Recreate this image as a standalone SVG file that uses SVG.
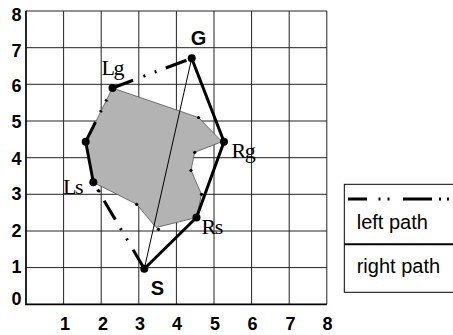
<svg xmlns="http://www.w3.org/2000/svg" width="453" height="335" viewBox="0 0 453 335">
<style>
.grid{stroke:#222;stroke-width:1;fill:none}
.axis{stroke:#000;stroke-width:1.7;fill:none}
.ax{font-family:"Liberation Sans",Arial,sans-serif;font-weight:bold;font-size:18px;fill:#000}
.big{font-family:"Liberation Sans",Arial,sans-serif;font-weight:bold;font-size:20px;fill:#000;text-anchor:middle}
.ser{font-family:"Liberation Serif","Times New Roman",serif;font-size:22px;letter-spacing:-1.5px;fill:#000}
.leg{font-family:"Liberation Sans",Arial,sans-serif;font-size:20px;fill:#000}
.left{stroke:#000;stroke-width:3;fill:none;stroke-dasharray:22 11 2 10 2 10}
.solid{stroke:#000;stroke-width:3;fill:none;stroke-linejoin:round}
.thin{stroke:#000;stroke-width:1;fill:none}
.pt{fill:#000}
</style>
<rect width="453" height="335" fill="#fff"/>
<g id="grid" class="grid">
<path d="M63.6 11V304.3M101.2 11V304.3M138.8 11V304.3M176.4 11V304.3M214 11V304.3M251.6 11V304.3M289.2 11V304.3M326.8 11V304.3"/>
<path d="M26 11H326.8M26 47.7H326.8M26 84.3H326.8M26 121H326.8M26 157.7H326.8M26 194.3H326.8M26 231H326.8M26 267.6H326.8"/>
<path class="axis" d="M26 11V304.3H326.8"/>
</g>
<g id="axis-labels">
<g class="ax" text-anchor="end">
<text x="21.5" y="20.7">8</text>
<text x="21.5" y="56.7">7</text>
<text x="21.5" y="91.7">6</text>
<text x="21.5" y="128.3">5</text>
<text x="21.5" y="165">4</text>
<text x="21.5" y="200">3</text>
<text x="21.5" y="236.7">2</text>
<text x="21.5" y="273.3">1</text>
<text x="21.5" y="305">0</text>
</g>
<g class="ax" text-anchor="middle">
<text x="65" y="330">1</text>
<text x="103" y="330">2</text>
<text x="140" y="330">3</text>
<text x="177" y="330">4</text>
<text x="215" y="330">5</text>
<text x="252.5" y="330">6</text>
<text x="290.5" y="330">7</text>
<text x="327.5" y="330">8</text>
</g>
</g>
<g id="obstacle">
<polygon points="112.5,88 198.5,117.5 222,141.7 194.7,152.3 191,170.3 201.5,194.3 196.5,217.5 156,227.5 136.7,204.3 93.3,182.3 85.7,141.7" fill="#b3b3b3" stroke="#555" stroke-width="0.8"/>
<g class="pt">
<circle cx="198.5" cy="117.5" r="1.6"/>
<circle cx="194.7" cy="152.3" r="1.6"/>
<circle cx="191" cy="170.3" r="1.6"/>
<circle cx="201.5" cy="194.3" r="1.6"/>
<circle cx="158.5" cy="229.3" r="1.6"/>
<circle cx="136.7" cy="204.3" r="1.6"/>
<circle cx="99" cy="191" r="1.6"/>
</g>
</g>
<g id="connectors">
<line class="thin" x1="144.3" y1="268.7" x2="191.7" y2="58.3"/>
<line class="left" x1="144.3" y1="268.7" x2="93.3" y2="182.3"/>
<line class="solid" x1="93.3" y1="182.3" x2="85.7" y2="141.7"/>
<line class="left" x1="85.7" y1="141.7" x2="112.5" y2="88"/>
<line class="left" x1="112.5" y1="88" x2="191.7" y2="58.3"/>
<polyline class="solid" points="144.3,268.7 196.5,217.5 224,141.7 191.7,58.3"/>
</g>
<g id="G"><circle class="pt" cx="191.7" cy="58.3" r="4"/><text class="big" x="198.5" y="45">G</text></g>
<g id="S"><circle class="pt" cx="144.3" cy="268.7" r="4"/><text class="big" x="157.5" y="295">S</text></g>
<g id="Lg"><circle class="pt" cx="112.5" cy="88" r="4"/><text class="ser" x="101.5" y="75">Lg</text></g>
<g id="Ls"><circle class="pt" cx="93.3" cy="182.3" r="4"/><text class="ser" x="63" y="193.5">Ls</text></g>
<g id="Rg"><circle class="pt" cx="224" cy="141.7" r="4"/><text class="ser" x="231.5" y="158">Rg</text></g>
<g id="Rs"><circle class="pt" cx="196.5" cy="217.5" r="4"/><text class="ser" x="201.5" y="233.5">Rs</text></g>
<g id="L4"><circle class="pt" cx="85.7" cy="141.7" r="4"/></g>
<g id="legend">
<rect x="344.3" y="184.3" width="115" height="108" fill="#fff" stroke="#000" stroke-width="1"/>
<path d="M348 199H367M378.5 199H380.5M387.5 199H389.5M403 199H432M439 199H441M447 199H449" stroke="#000" stroke-width="3" fill="none"/>
<text class="leg" x="356.7" y="229.3">left path</text>
<line x1="344.3" y1="244.3" x2="453" y2="244.3" stroke="#000" stroke-width="2"/>
<text class="leg" x="356.7" y="272.6">right path</text>
</g>
</svg>
